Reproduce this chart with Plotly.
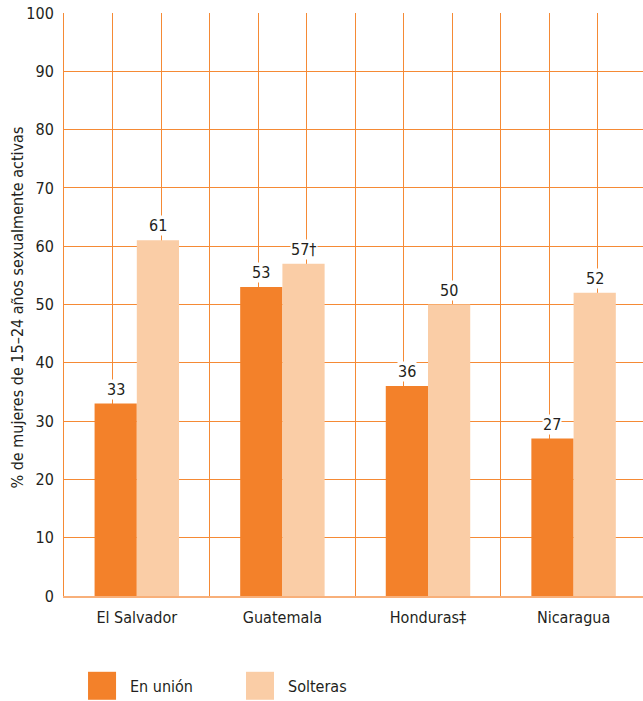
import plotly.graph_objects as go

categories = ["El Salvador", "Guatemala", "Honduras‡", "Nicaragua"]
en_union = [33, 53, 36, 27]
solteras = [61, 57, 50, 52]
en_union_labels = ["33", "53", "36", "27"]
solteras_labels = ["61", "57†", "50", "52"]
series_names = ["En unión", "Solteras"]
y_ticks = [0, 10, 20, 30, 40, 50, 60, 70, 80, 90, 100]
y_title = "% de mujeres de 15–24 años sexualmente activas"

DARK = "#F3812A"
LIGHT = "#FACDA6"
GRID = "#F58A35"
TXT = "#231F20"
FONT = "DejaVu Sans Condensed, Liberation Sans Narrow, sans-serif"

centers = [1.5 + 3 * i for i in range(len(categories))]
bw = 0.87

fig = go.Figure()
fig.add_trace(go.Bar(x=[c - bw / 2 for c in centers], y=en_union, width=bw,
                     marker=dict(color=DARK, line=dict(width=0)), name=series_names[0], showlegend=False))
fig.add_trace(go.Bar(x=[c + bw / 2 for c in centers], y=solteras, width=bw,
                     marker=dict(color=LIGHT, line=dict(width=0)), name=series_names[1], showlegend=False))

for c, v, t in zip(centers, en_union, en_union_labels):
    fig.add_annotation(x=c - bw / 2, y=v, text=t, showarrow=False, yanchor="bottom", yshift=4,
                       bgcolor="white", borderpad=0, font=dict(family=FONT, size=16, color=TXT))
for c, v, t in zip(centers, solteras, solteras_labels):
    fig.add_annotation(x=c + bw / 2, y=v, text=t, showarrow=False, yanchor="bottom", yshift=4,
                       bgcolor="white", borderpad=0, font=dict(family=FONT, size=16, color=TXT))

# y-axis title as a rotated annotation
fig.add_annotation(xref="paper", yref="paper", x=-0.081, y=0.495, text=y_title, textangle=-90,
                   showarrow=False, xanchor="center", yanchor="middle",
                   font=dict(family=FONT, size=16, color=TXT))

# legend drawn manually (large square swatches)
leg = [(series_names[0], DARK, 0.0415), (series_names[1], LIGHT, 0.3143)]
for name, col, x0 in leg:
    fig.add_shape(type="rect", xref="paper", yref="paper", x0=x0, x1=x0 + 0.0484,
                  y0=-0.178, y1=-0.130, fillcolor=col, line=dict(width=0))
    fig.add_annotation(xref="paper", yref="paper", x=x0 + 0.069, y=-0.156, text=name,
                       showarrow=False, xanchor="left", yanchor="middle",
                       font=dict(family=FONT, size=16, color=TXT))

fig.update_layout(
    width=643, height=701,
    margin=dict(l=64, r=0, t=13, b=105),
    plot_bgcolor="white", paper_bgcolor="white",
    barmode="overlay",
    font=dict(family=FONT, size=16, color=TXT),
    showlegend=False,
)
fig.update_xaxes(range=[0, 11.93], tickvals=centers, ticktext=categories, showgrid=False,
                 ticks="", ticklabelstandoff=6, automargin=False,
                 minor=dict(tick0=0, dtick=1, showgrid=True, gridcolor=GRID, gridwidth=1, ticks=""),
                 showline=True, linecolor="#F8B07A", linewidth=2, zeroline=False,
                 tickfont=dict(family=FONT, size=16, color=TXT))
fig.update_yaxes(range=[0, 100], tickvals=y_ticks, showgrid=True, gridcolor=GRID, gridwidth=1,
                 zeroline=False, ticks="", ticklabelstandoff=6, showline=True, linecolor=GRID,
                 automargin=False,
                 tickfont=dict(family=FONT, size=16, color=TXT))

# remove the default 8px page margin so the figure sits at the window's top-left corner
fig.write_html("out.html", post_script="document.body.style.margin='0';",
               config={"displayModeBar": False})
